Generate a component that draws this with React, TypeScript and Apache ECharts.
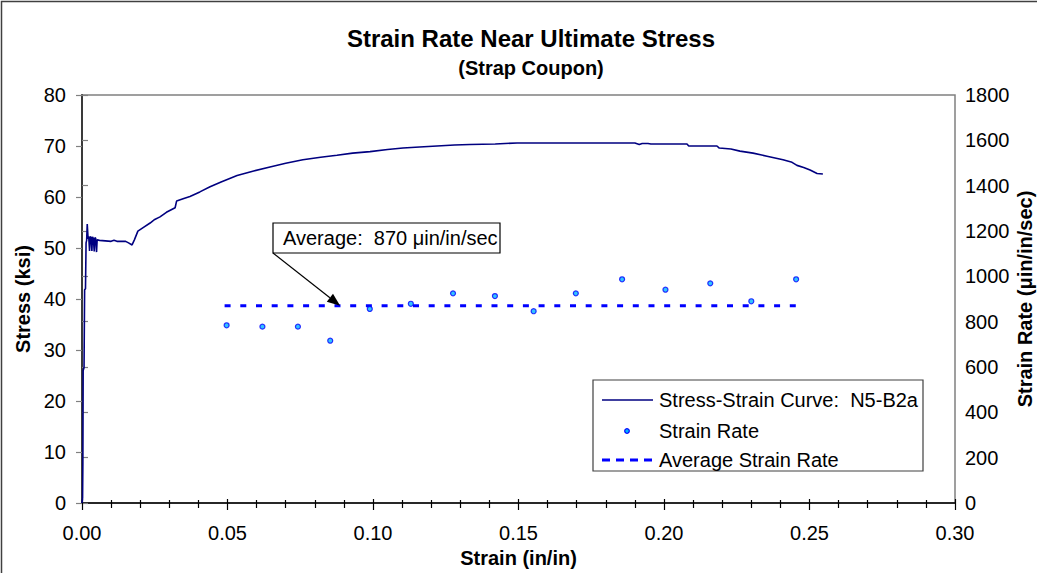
import React, { useEffect, useRef } from "react";
import * as echarts from "echarts";

// Stress-strain record for coupon N5-B2a: [strain (in/in), stress (ksi)]
const stressStrain: [number, number][] = [
  [0, 0], [0.0002, 1], [0.0003, 8], [0.0004, 26], [0.0007, 26.5], [0.0009, 41.8],
  [0.0012, 42], [0.0014, 51], [0.0016, 51.5], [0.0018, 54.7], [0.0021, 51.8],
  [0.0023, 52.3], [0.0026, 49.4], [0.0028, 52.2], [0.0031, 52.1], [0.0034, 49.4],
  [0.0036, 52.2], [0.0039, 51.9], [0.0042, 49.3], [0.0044, 52.0], [0.0047, 51.9],
  [0.005, 49.2], [0.0052, 51.6], [0.006, 51.5], [0.008, 51.4], [0.01, 51.3],
  [0.011, 51.5], [0.012, 51.3], [0.015, 51.3], [0.016, 51.0], [0.0172, 50.6],
  [0.018, 51.6], [0.0192, 53.3], [0.021, 54.0], [0.0234, 54.9], [0.025, 55.6],
  [0.0268, 56.1], [0.029, 57.0], [0.031, 57.6], [0.032, 57.9], [0.0325, 59.2],
  [0.035, 59.7], [0.0371, 60.1], [0.0405, 61.0], [0.044, 62.0], [0.048, 63.0],
  [0.0533, 64.2], [0.059, 65.1], [0.0646, 65.9], [0.07, 66.6], [0.0759, 67.3],
  [0.082, 67.8], [0.0876, 68.2], [0.093, 68.6], [0.099, 68.9], [0.105, 69.3],
  [0.1103, 69.6], [0.116, 69.8], [0.122, 70.0], [0.128, 70.2], [0.1333, 70.3],
  [0.142, 70.4], [0.1495, 70.6], [0.17, 70.6], [0.19, 70.6], [0.1915, 70.3],
  [0.1925, 70.5], [0.1945, 70.5], [0.1955, 70.4], [0.2079, 70.4], [0.2085, 70.0],
  [0.2182, 70.0], [0.219, 69.6], [0.223, 69.4], [0.2261, 69.0], [0.2306, 68.6],
  [0.2354, 68.0], [0.2409, 67.3], [0.244, 66.8], [0.2457, 66.2], [0.248, 65.8],
  [0.2502, 65.3], [0.2526, 64.6], [0.2546, 64.5],
];

// Measured strain rate: [strain (in/in), rate (µin/in/sec)]
const strainRate: [number, number][] = [
  [0.0497, 784], [0.062, 778], [0.0742, 778], [0.0853, 716], [0.0989, 856],
  [0.113, 879], [0.1275, 925], [0.1419, 913], [0.1552, 846], [0.1697, 925],
  [0.1856, 987], [0.2005, 941], [0.2159, 969], [0.23, 890], [0.2454, 987],
];

const AVERAGE_RATE = 870;
const averageSpan: number[] = [0.049, 0.247];
const averageLine: [number, number][] = averageSpan.map((s) => [s, AVERAGE_RATE]);
const arrowTarget: [number, number] = [0.0887, AVERAGE_RATE];

const legendNames = ["Stress-Strain Curve:  N5-B2a", "Strain Rate", "Average Strain Rate"];

const FONT = "'Liberation Sans', Arial, Helvetica, sans-serif";
const NAVY = "#000080";
const BLUE = "#0000FF";

export default function App() {
  const ref = useRef<HTMLDivElement>(null);

  useEffect(() => {
    document.body.style.margin = "0";
    if (!ref.current) return;
    const chart = echarts.init(ref.current, undefined, { renderer: "svg" });

    const tickLabel = { fontFamily: FONT, fontSize: 20, color: "#000" };
    const axisName = { fontFamily: FONT, fontSize: 20, fontWeight: "bold" as const, color: "#000" };

    chart.setOption({
      animation: false,
      backgroundColor: "#fff",
      textStyle: { fontFamily: FONT },
      title: [
        {
          text: "Strain Rate Near Ultimate Stress",
          left: 526,
          top: 21,
          textAlign: "center",
          padding: 5,
          textStyle: { fontFamily: FONT, fontSize: 24, fontWeight: "bold", color: "#000" },
        },
        {
          text: "(Strap Coupon)",
          left: 526,
          top: 53,
          textAlign: "center",
          padding: 5,
          textStyle: { fontFamily: FONT, fontSize: 20, fontWeight: "bold", color: "#000" },
        },
      ],
      grid: {
        left: 82,
        right: 82,
        top: 95,
        bottom: 70,
        outerBoundsMode: "none",
        containLabel: false,
        show: true,
        borderColor: "#808080",
        borderWidth: 1.5,
        backgroundColor: "transparent",
      },
      xAxis: [
        {
          type: "value",
          min: 0,
          max: 0.3,
          interval: 0.05,
          name: "Strain (in/in)",
          nameLocation: "middle",
          nameGap: 38,
          nameTextStyle: axisName,
          axisLine: { show: true, lineStyle: { color: "#000", width: 1.5 } },
          axisTick: { show: true, length: 7, lineStyle: { color: "#000", width: 1.2 } },
          minorTick: { show: true, splitNumber: 5, length: 5, lineStyle: { color: "#000", width: 1.2 } },
          splitLine: { show: false },
          minorSplitLine: { show: false },
          axisLabel: { ...tickLabel, margin: 20, formatter: (v: number) => v.toFixed(2) },
        },
        {
          type: "value",
          min: 0,
          max: 0.3,
          interval: 0.05,
          position: "bottom",
          axisLine: { show: false },
          axisTick: { show: true, inside: true, length: 4, lineStyle: { color: "#000", width: 1.2 } },
          minorTick: { show: true, splitNumber: 5, length: 3, lineStyle: { color: "#000", width: 1.2 } },
          splitLine: { show: false },
          axisLabel: { show: false },
        },
      ],
      yAxis: [
        {
          type: "value",
          min: 0,
          max: 80,
          interval: 10,
          name: "Stress (ksi)",
          nameLocation: "middle",
          nameGap: 48,
          nameTextStyle: axisName,
          axisLine: { show: true, lineStyle: { color: "#000", width: 1.5 } },
          axisTick: { show: true, length: 6, lineStyle: { color: "#808080", width: 1.2 } },
          splitLine: { show: false },
          axisLabel: { ...tickLabel, margin: 16 },
        },
        {
          type: "value",
          min: 0,
          max: 1800,
          interval: 200,
          position: "right",
          name: "Strain Rate (μin/in/sec)",
          nameLocation: "middle",
          nameGap: 60,
          nameMoveOverlap: false,
          nameTextStyle: axisName,
          axisLine: { show: true, lineStyle: { color: "#404040", width: 1.5 } },
          axisTick: { show: true, length: 6, lineStyle: { color: "#808080", width: 1.2 } },
          splitLine: { show: false },
          axisLabel: { ...tickLabel, margin: 10, formatter: (v: number) => String(v) },
        },
      ],
      series: [
        {
          name: legendNames[0],
          type: "line",
          xAxisIndex: 0,
          yAxisIndex: 0,
          data: stressStrain,
          showSymbol: false,
          symbol: "none",
          lineStyle: { color: NAVY, width: 1.6 },
          z: 3,
        },
        {
          name: legendNames[1],
          type: "scatter",
          xAxisIndex: 0,
          yAxisIndex: 1,
          data: strainRate,
          symbol: "circle",
          symbolSize: 5,
          itemStyle: { color: "#00B4FF", borderColor: BLUE, borderWidth: 1.2 },
          z: 4,
        },
        {
          name: legendNames[2],
          type: "line",
          xAxisIndex: 0,
          yAxisIndex: 1,
          data: averageLine,
          showSymbol: false,
          symbol: "none",
          lineStyle: { color: BLUE, width: 3, type: [6, 9.7], cap: "butt" },
          z: 2,
        },
      ],
    });

    // Annotation pointing at the average line, and the legend box
    const tip = chart.convertToPixel({ xAxisIndex: 0, yAxisIndex: 1 }, arrowTarget) as number[];
    const start = [273, 253];
    const dx = tip[0] - start[0];
    const dy = tip[1] - start[1];
    const len = Math.sqrt(dx * dx + dy * dy);
    const ux = dx / len;
    const uy = dy / len;
    const headLen = 13;
    const headHalf = 5;
    const bx = tip[0] - ux * headLen;
    const by = tip[1] - uy * headLen;

    const legX = 593;
    const legY = 380;
    const rowY = [400, 431, 460];

    chart.setOption({
      graphic: [
        // outer frame of the chart area (top and left edges fall inside the view)
        {
          type: "rect",
          shape: { x: 1.5, y: 1.5, width: 1060, height: 600 },
          style: { fill: "none", stroke: "#404040", lineWidth: 1.5 },
          silent: true,
          z: 0,
        },
        // annotation box
        {
          type: "rect",
          shape: { x: 273, y: 223, width: 227, height: 30 },
          style: { fill: "#fff", stroke: "#000", lineWidth: 1.2 },
          z: 10,
        },
        {
          type: "text",
          x: 283,
          y: 238,
          style: {
            text: `Average:  ${AVERAGE_RATE} μin/in/sec`,
            font: `20px ${FONT}`,
            fill: "#000",
            verticalAlign: "middle",
          },
          z: 11,
        },
        {
          type: "line",
          shape: { x1: start[0], y1: start[1], x2: bx, y2: by },
          style: { stroke: "#000", lineWidth: 1.2 },
          z: 10,
        },
        {
          type: "polygon",
          shape: {
            points: [
              [tip[0], tip[1]],
              [bx - uy * headHalf, by + ux * headHalf],
              [bx + uy * headHalf, by - ux * headHalf],
            ],
          },
          style: { fill: "#000" },
          z: 10,
        },
        // legend
        {
          type: "rect",
          shape: { x: legX, y: legY, width: 330, height: 91 },
          style: { fill: "#fff", stroke: "#404040", lineWidth: 1.2 },
          z: 10,
        },
        {
          type: "line",
          shape: { x1: 602, y1: rowY[0], x2: 653, y2: rowY[0] },
          style: { stroke: NAVY, lineWidth: 1.6 },
          z: 11,
        },
        {
          type: "circle",
          shape: { cx: 627, cy: rowY[1], r: 2.3 },
          style: { fill: "#00B4FF", stroke: BLUE, lineWidth: 1.2 },
          z: 11,
        },
        {
          type: "line",
          shape: { x1: 602, y1: rowY[2], x2: 653, y2: rowY[2] },
          style: { stroke: BLUE, lineWidth: 3, lineDash: [8, 6], lineCap: "butt" },
          z: 11,
        },
        ...legendNames.map((name, i) => ({
          type: "text",
          x: 659,
          y: rowY[i],
          style: { text: name, font: `20px ${FONT}`, fill: "#000", verticalAlign: "middle" },
          z: 11,
        })),
      ],
    });

    return () => chart.dispose();
  }, []);

  return <div ref={ref} style={{ width: 1037, height: 573 }} />;
}
